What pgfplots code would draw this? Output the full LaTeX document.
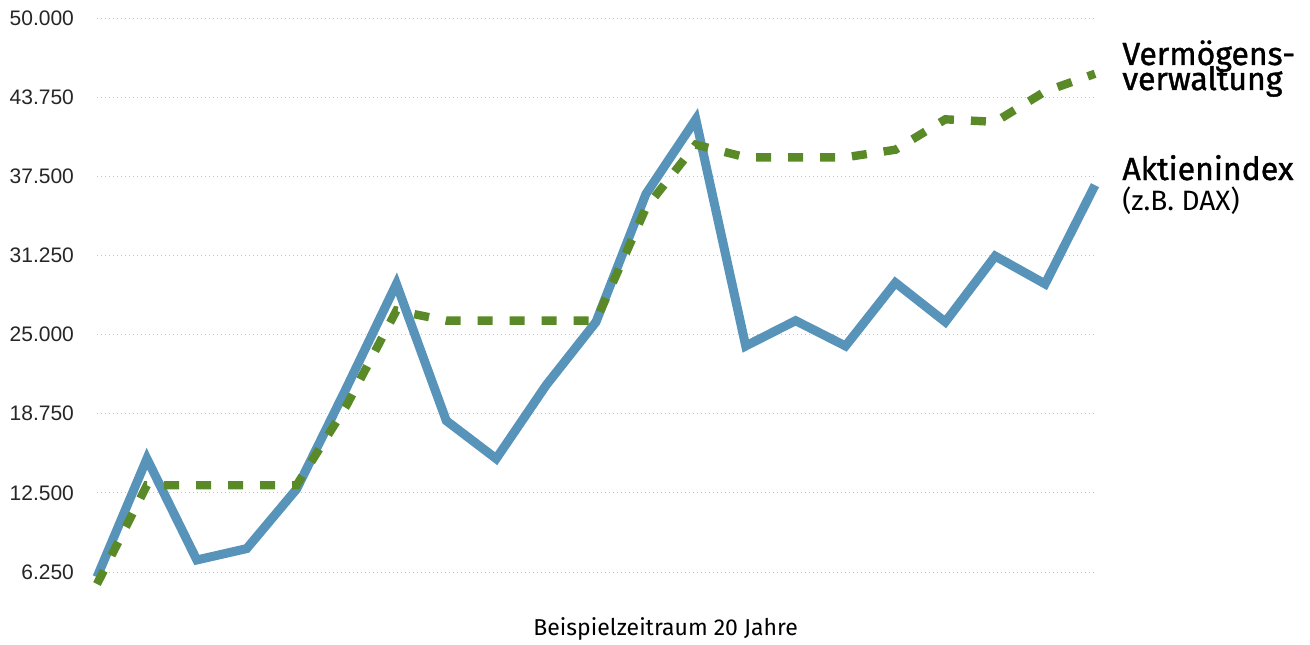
\documentclass[border=0pt]{standalone}
\usepackage{pgfplots}
\pgfplotsset{compat=1.18}
\usepackage{fontspec}
\setmainfont{Liberation Sans}
\newfontfamily\fira{Fira Sans}
\newfontfamily\firamed[FakeBold=1.2]{Fira Sans}
\definecolor{dax}{RGB}{88,148,186}
\definecolor{vv}{RGB}{90,138,40}
\definecolor{gridgray}{RGB}{195,195,195}

\pgfplotstableread{
x dax vv
0 5.85 5.3
1 15.2 13.1
2 7.2 13.1
3 8.1 13.1
4 12.8 13.1
5 20.8 19.4
6 29.0 26.9
7 18.2 26.1
8 15.2 26.1
9 21.0 26.1
10 26.0 26.1
11 36.1 35.0
12 42.0 40.0
13 24.1 39.0
14 26.1 39.0
15 24.1 39.0
16 29.1 39.6
17 26.0 42.0
18 31.2 41.8
19 29.0 44.2
20 36.8 45.6
}\datatable

\begin{document}
\begin{tikzpicture}
\path[use as bounding box] (0,0) rectangle (655pt,322pt);
\begin{axis}[
    at={(48.5pt,21.75pt)}, anchor=south west,
    scale only axis,
    width=499pt, height=294.4pt,
    xmin=0, xmax=20, ymin=4, ymax=50.5,
    axis line style={draw=none},
    xtick=\empty,
    ytick={6.25,12.5,18.75,25,31.25,37.5,43.75,50},
    yticklabels={6.250,12.500,18.750,25.000,31.250,37.500,43.750,50.000},
    yticklabel style={font=\fontsize{10.5}{12}\selectfont, color=black!85, anchor=east, xshift=-8pt},
    major tick length=0pt,
    ymajorgrids,
    grid style={gridgray, line width=0.5pt, dash pattern=on 0.7pt off 1.3pt},
    clip=false,
]
\addplot[dax, line width=4.5pt, line join=miter, miter limit=10] table[x=x, y=dax] {\datatable};
\addplot[vv, line width=4.2pt, line cap=butt, dash pattern=on 7.5pt off 8.5pt] table[x=x, y=vv] {\datatable};
\end{axis}
\node[anchor=base west, inner sep=0pt, font=\firamed\fontsize{16}{16}\selectfont] at (561pt,289.5pt) {Vermögens-};
\node[anchor=base west, inner sep=0pt, font=\firamed\fontsize{16}{16}\selectfont] at (561pt,277pt) {verwaltung};
\node[anchor=base west, inner sep=0pt, font=\firamed\fontsize{16}{16}\selectfont] at (561pt,232pt) {Aktienindex};
\node[anchor=base west, inner sep=0pt, font=\fira\fontsize{14}{14}\selectfont] at (561pt,217pt) {(z.B. DAX)};
\node[anchor=base west, inner sep=0pt, font=\fira\fontsize{11.5}{12}\selectfont] at (266.5pt,4.5pt) {Beispielzeitraum 20 Jahre};
\end{tikzpicture}
\end{document}
